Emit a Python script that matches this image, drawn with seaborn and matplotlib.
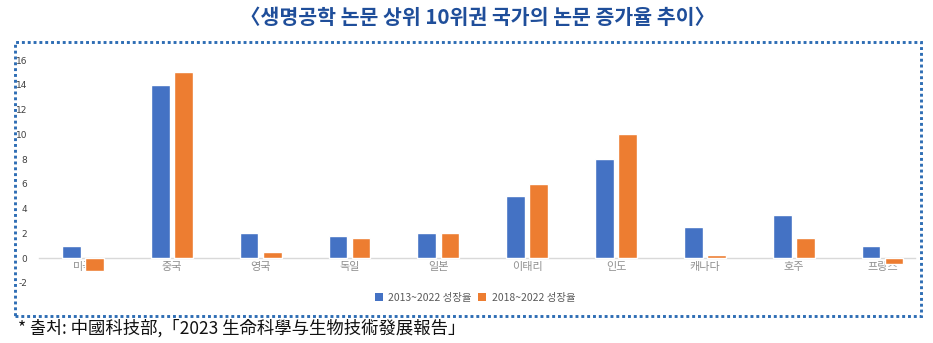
import matplotlib
matplotlib.use("Agg")
import matplotlib.pyplot as plt
from matplotlib.patches import Rectangle, Patch
import seaborn as sns
import pandas as pd

# 국가별 논문 증가율 (%)
countries = ["미국", "중국", "영국", "독일", "일본", "이태리", "인도", "캐나다", "호주", "프랑스"]
growth_2013_2022 = [1.0, 14.0, 2.0, 1.8, 2.0, 5.0, 8.0, 2.5, 3.5, 1.0]
growth_2018_2022 = [-1.0, 15.0, 0.5, 1.6, 2.0, 6.0, 10.0, 0.3, 1.6, -0.5]
series_names = ["2013~2022 성장율", "2018~2022 성장율"]
y_ticks = [-2, 0, 2, 4, 6, 8, 10, 12, 14, 16]

title = "〈생명공학 논문 상위 10위권 국가의 논문 증가율 추이〉"
source = "* 출처: 中國科技部,「2023 生命科學与生物技術發展報告」"

sns.set_theme(style="white")
plt.rcParams["font.family"] = ["Noto Sans CJK KR", "DejaVu Sans"]

df = pd.DataFrame({
    "국가": countries * 2,
    "성장율": growth_2013_2022 + growth_2018_2022,
    "기간": [series_names[0]] * len(countries) + [series_names[1]] * len(countries),
})

colors = ["#4472C4", "#ED7D31"]

W, H = 933, 343
fig = plt.figure(figsize=(W / 100, H / 100), dpi=100)
fig.patch.set_facecolor("white")

ax = fig.add_axes([38.5 / W, 1 - 283 / H, 888.5 / W, 223 / H])
sns.barplot(data=df, x="국가", y="성장율", hue="기간", palette=colors, saturation=1,
            width=0.52, gap=0.19, ax=ax, legend=False, zorder=2)

ax.set_xlim(-0.5, len(countries) - 0.5)
ax.set_ylim(y_ticks[0], y_ticks[-1])
ax.set_xlabel("")
ax.set_ylabel("")
for name in ("top", "right", "left"):
    ax.spines[name].set_visible(False)
# 가로축을 0 위치로 이동
ax.spines["bottom"].set_position(("data", 0))
ax.spines["bottom"].set_color("#d9d9d9")
ax.spines["bottom"].set_linewidth(1)
ax.spines["bottom"].set_bounds(-0.5, 9.37)
ax.spines["bottom"].set_zorder(1)

ax.set_yticks(y_ticks)
ax.set_yticklabels([str(t) for t in y_ticks], fontsize=6.5, color="#404040",
                   family=["DejaVu Sans"])
ax.set_xticks(range(len(countries)))
ax.set_xticklabels(countries, fontsize=8, color="#909090")
ax.tick_params(axis="y", length=0, pad=8)
ax.tick_params(axis="x", length=0, pad=3)

# 범례
handles = [Patch(facecolor=c, edgecolor="none") for c in colors]
leg = fig.legend(handles, series_names, loc="center", bbox_to_anchor=(475 / W, 1 - 298 / H),
                 ncol=2, frameon=False, fontsize=7.5, handlelength=0.8, handleheight=0.8,
                 handletextpad=0.5, columnspacing=0.6, borderpad=0)
for t in leg.get_texts():
    t.set_color("#595959")

# 제목
fig.text(477 / W, 1 - 18 / H, title, ha="center", va="center", fontsize=14.8,
         fontweight="bold", color="#1F4E9A")

# 점선 테두리
fig.patches.append(Rectangle((15 / W, 1 - 316 / H), 906 / W, 274 / H,
                             transform=fig.transFigure, fill=False,
                             edgecolor="#2E6DB4", lw=2.1, linestyle=(0, (1, 1)),
                             capstyle="butt", zorder=5))

# 출처
fig.text(18 / W, 1 - 328 / H, source, ha="left", va="center", fontsize=12.5, color="#111111")

fig.savefig("out.png", dpi=100, facecolor="white")
